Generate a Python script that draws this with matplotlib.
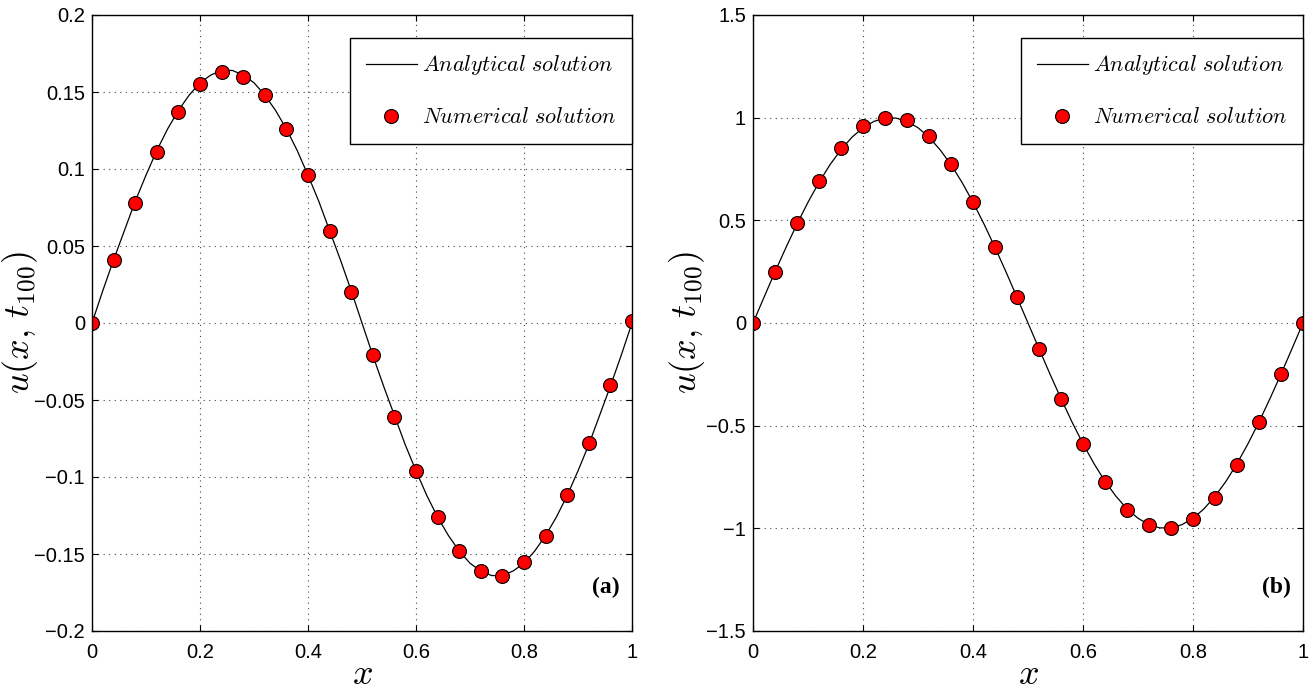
import matplotlib
matplotlib.use("Agg")
import matplotlib.pyplot as plt

plt.rcParams["mathtext.fontset"] = "cm"
plt.rcParams["font.family"] = ["Liberation Sans", "DejaVu Sans"]

# numerical solution (dots), x = 0 : 0.04 : 1
x_num = [0.00, 0.04, 0.08, 0.12, 0.16, 0.20, 0.24, 0.28, 0.32, 0.36, 0.40, 0.44, 0.48,
         0.52, 0.56, 0.60, 0.64, 0.68, 0.72, 0.76, 0.80, 0.84, 0.88, 0.92, 0.96, 1.00]
u_num_a = [0.000, 0.041, 0.078, 0.111, 0.137, 0.155, 0.163, 0.160, 0.148, 0.126, 0.096, 0.060, 0.020,
           -0.021, -0.061, -0.096, -0.126, -0.148, -0.161, -0.164, -0.155, -0.138, -0.112, -0.078, -0.040, 0.001]
u_num_b = [0.000, 0.250, 0.485, 0.690, 0.850, 0.960, 1.000, 0.990, 0.910, 0.775, 0.590, 0.370, 0.125,
           -0.125, -0.370, -0.590, -0.775, -0.910, -0.985, -1.000, -0.955, -0.850, -0.690, -0.480, -0.250, 0.000]

# analytical solution (line), x = 0 : 0.02 : 1
x_ana = [0.00, 0.02, 0.04, 0.06, 0.08, 0.10, 0.12, 0.14, 0.16, 0.18, 0.20, 0.22, 0.24, 0.26,
         0.28, 0.30, 0.32, 0.34, 0.36, 0.38, 0.40, 0.42, 0.44, 0.46, 0.48, 0.50, 0.52, 0.54,
         0.56, 0.58, 0.60, 0.62, 0.64, 0.66, 0.68, 0.70, 0.72, 0.74, 0.76, 0.78, 0.80, 0.82,
         0.84, 0.86, 0.88, 0.90, 0.92, 0.94, 0.96, 0.98, 1.00]
u_ana_a = [0.000, 0.021, 0.041, 0.060, 0.079, 0.096, 0.112, 0.126, 0.138, 0.148, 0.156, 0.161, 0.164, 0.164,
           0.161, 0.156, 0.148, 0.138, 0.126, 0.112, 0.096, 0.079, 0.060, 0.041, 0.021, 0.000, -0.021, -0.041,
           -0.060, -0.079, -0.096, -0.112, -0.126, -0.138, -0.148, -0.156, -0.161, -0.164, -0.164, -0.161,
           -0.156, -0.148, -0.138, -0.126, -0.112, -0.096, -0.079, -0.060, -0.041, -0.021, 0.000]
u_ana_b = [0.000, 0.125, 0.249, 0.368, 0.482, 0.588, 0.685, 0.771, 0.844, 0.905, 0.951, 0.982, 0.998, 0.998,
           0.982, 0.951, 0.905, 0.844, 0.771, 0.685, 0.588, 0.482, 0.368, 0.249, 0.125, 0.000, -0.125, -0.249,
           -0.368, -0.482, -0.588, -0.685, -0.771, -0.844, -0.905, -0.951, -0.982, -0.998, -0.998, -0.982,
           -0.951, -0.905, -0.844, -0.771, -0.685, -0.588, -0.482, -0.368, -0.249, -0.125, 0.000]

x_ticks = [0, 0.2, 0.4, 0.6, 0.8, 1]
x_labels = ["0", "0.2", "0.4", "0.6", "0.8", "1"]
y_ticks_a = [-0.2, -0.15, -0.1, -0.05, 0, 0.05, 0.1, 0.15, 0.2]
y_labels_a = ["\u22120.2", "\u22120.15", "\u22120.1", "\u22120.05", "0", "0.05", "0.1", "0.15", "0.2"]
y_ticks_b = [-1.5, -1, -0.5, 0, 0.5, 1, 1.5]
y_labels_b = ["\u22121.5", "\u22121", "\u22120.5", "0", "0.5", "1", "1.5"]

W, H = 1315, 694
fig = plt.figure(figsize=(W / 100, H / 100), dpi=100)

# (left px, right px, line, dots, yticks, ylabels, tag, ylabel right edge in px)
panels = [
    (92, 632, u_ana_a, u_num_a, y_ticks_a, y_labels_a, "(a)", 40),
    (753, 1303, u_ana_b, u_num_b, y_ticks_b, y_labels_b, "(b)", 707),
]
top, bot = 15, 631
for x0, x1, ua, un, yt, yl, tag, ylx in panels:
    ax = fig.add_axes([x0 / W, 1 - bot / H, (x1 - x0) / W, (bot - top) / H])
    ax.plot(x_ana, ua, color="black", lw=0.9, label=r"$Analytical\ solution\,$")
    ax.plot(x_num, un, ls="none", marker="o", ms=10, mfc="red", mec="black", mew=0.8,
            label=r"$Numerical\ solution\,$")
    ax.set_xlim(0, 1)
    ax.set_ylim(yt[0], yt[-1])
    ax.set_xticks(x_ticks)
    ax.set_xticklabels(x_labels)
    ax.set_yticks(yt)
    ax.set_yticklabels(yl)
    ax.tick_params(direction="in", length=4, labelsize=14.5, width=0.8, top=True, right=True)
    ax.tick_params(axis="x", pad=9)
    ax.tick_params(axis="y", pad=5)
    ax.grid(True, ls=(0, (1, 4)), color="#444444", lw=0.8)
    for s in ax.spines.values():
        s.set_linewidth(1.0)
    ax.set_xlabel(r"$x$", fontsize=26, labelpad=-4)
    ax.set_ylabel(r"$u(x,\,t_{100})$", fontsize=26)
    ax.yaxis.set_label_coords((ylx - x0) / (x1 - x0), 0.5)
    leg = ax.legend(loc="upper right", bbox_to_anchor=(1.0, 0.963), borderaxespad=0,
                    fontsize=16, fancybox=False, edgecolor="black", framealpha=1,
                    handlelength=2.3, borderpad=0.7, labelspacing=1.35, handletextpad=0.25)
    leg.get_frame().set_linewidth(1.0)
    ax.text(0.978, 0.07, tag, transform=ax.transAxes, ha="right", va="center",
            fontsize=17, fontweight="bold", family="Liberation Serif")

fig.savefig("out.png", dpi=100)
